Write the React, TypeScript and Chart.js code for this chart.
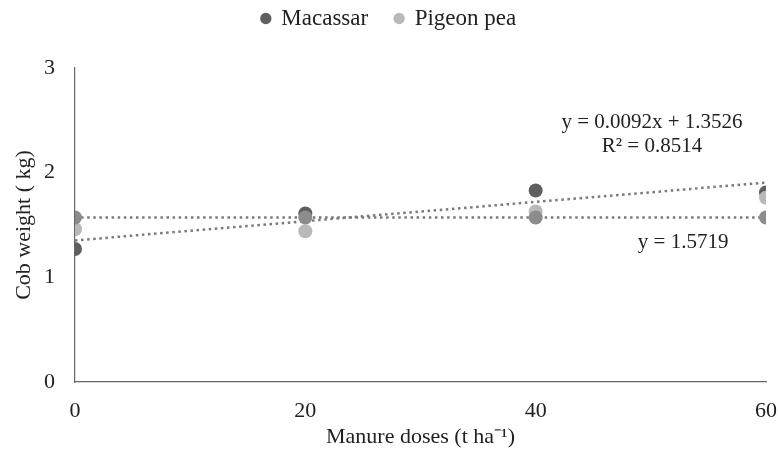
import { useEffect, useRef } from 'react';
import Chart from 'chart.js/auto';

const doses = [0, 20, 40, 60];
const macassar = [1.27, 1.61, 1.83, 1.81];
const pigeonPea = [1.46, 1.44, 1.63, 1.76];
const pigeonPeaFit = [1.5719, 1.5719, 1.5719, 1.5719];
const macassarSlope = 0.0092;
const macassarIntercept = 1.3526;
const pigeonPeaLevel = 1.5719;
const xTicks = [0, 20, 40, 60];
const yTicks = [0, 1, 2, 3];
const seriesNames = ['Macassar', 'Pigeon pea'];
const eqMacassar = 'y = 0.0092x + 1.3526';
const r2Macassar = 'R² = 0.8514';
const eqPigeon = 'y = 1.5719';

const FONT = "'Liberation Serif', 'Times New Roman', serif";
const TEXT = '#222222';
const FS = 22;

export default function App() {
  const ref = useRef<HTMLCanvasElement | null>(null);

  useEffect(() => {
    document.body.style.margin = '0';
    const canvas = ref.current;
    if (!canvas) return;

    const annot = {
      id: 'annot',
      afterDatasetsDraw(chart: any) {
        const { ctx, scales } = chart;
        const x = scales.x;
        const y = scales.y;
        ctx.save();
        ctx.font = `21px ${FONT}`;
        ctx.fillStyle = TEXT;
        ctx.textAlign = 'center';
        ctx.textBaseline = 'middle';
        ctx.fillText(eqMacassar, x.getPixelForValue(50.1), y.getPixelForValue(2.483));
        ctx.fillText(r2Macassar, x.getPixelForValue(50.1), y.getPixelForValue(2.254));
        ctx.fillText(eqPigeon, x.getPixelForValue(52.8), y.getPixelForValue(1.33));
        ctx.restore();
      },
    };

    const legendSpace = {
      id: 'legendSpace',
      beforeLayout(chart: any) {
        const lg = chart.legend;
        if (lg && !lg.__patched) {
          const orig = lg.fit.bind(lg);
          lg.fit = function () {
            orig();
            this.height = 88;
          };
          lg.__patched = true;
        }
      },
    };

    const trendLen = [doses[0], doses[doses.length - 1]];

    const chart = new Chart(canvas, {
      type: 'scatter',
      data: {
        datasets: [
          {
            label: 'fit',
            data: doses.map((d, i) => ({ x: d, y: pigeonPeaFit[i] })),
            backgroundColor: '#8c8c8c',
            borderWidth: 0,
            pointRadius: 7,
            order: 0,
          },
          {
            label: seriesNames[1],
            data: doses.map((d, i) => ({ x: d, y: pigeonPea[i] })),
            backgroundColor: '#b9b9b9',
            borderColor: '#b9b9b9',
            borderWidth: 0,
            pointRadius: 7,
            order: 1,
          },
          {
            label: seriesNames[0],
            data: doses.map((d, i) => ({ x: d, y: macassar[i] })),
            backgroundColor: '#5f5f5f',
            borderColor: '#5f5f5f',
            borderWidth: 0,
            pointRadius: 7,
            order: 2,
          },
          {
            type: 'line',
            label: 'trend1',
            data: trendLen.map((d) => ({ x: d, y: macassarSlope * d + macassarIntercept })),
            borderColor: '#7a7a7a',
            borderWidth: 2.5,
            borderDash: [2.5, 3.6],
            pointRadius: 0,
            fill: false,
            order: 3,
          } as any,
          {
            type: 'line',
            label: 'trend2',
            data: trendLen.map((d) => ({ x: d, y: pigeonPeaLevel })),
            borderColor: '#7a7a7a',
            borderWidth: 2.5,
            borderDash: [2.5, 3.6],
            pointRadius: 0,
            fill: false,
            order: 4,
          } as any,
        ],
      },
      options: {
        animation: false,
        responsive: false,
        devicePixelRatio: 1,
        layout: { padding: { top: -20, left: 0, right: 0, bottom: 0 } },
        plugins: {
          tooltip: { enabled: false },
          legend: {
            position: 'top',
            labels: {
              usePointStyle: true,
              pointStyle: 'circle',
              boxWidth: 8,
              boxHeight: 8,
              padding: 27,
              color: TEXT,
              font: { family: FONT, size: 23 },
              filter: (item: any) => seriesNames.includes(item.text),
              sort: (a: any, b: any) => seriesNames.indexOf(a.text) - seriesNames.indexOf(b.text),
            },
          },
        },
        scales: {
          x: {
            type: 'linear',
            min: 0,
            max: 60,
            afterBuildTicks: (s: any) => {
              s.ticks = xTicks.map((v) => ({ value: v }));
            },
            afterFit: (s: any) => {
              s.height = 70;
              s.paddingRight = 12;
            },
            grid: { display: false, drawTicks: false },
            border: { display: true, color: '#666666', width: 1.2 },
            ticks: {
              padding: 16,
              color: TEXT,
              font: { family: FONT, size: FS },
              maxRotation: 0,
            },
            title: {
              display: true,
              text: 'Manure doses (t ha⁻¹)',
              color: TEXT,
              font: { family: FONT, size: FS },
              padding: { top: 0, bottom: 2 },
            },
          },
          y: {
            type: 'linear',
            min: 0,
            max: 3,
            afterBuildTicks: (s: any) => {
              s.ticks = yTicks.map((v) => ({ value: v }));
            },
            afterFit: (s: any) => {
              s.width = 75;
            },
            grid: { display: false, drawTicks: false },
            border: { display: true, color: '#666666', width: 1.2 },
            ticks: {
              padding: 20,
              color: TEXT,
              font: { family: FONT, size: FS },
            },
            title: {
              display: true,
              text: 'Cob weight ( kg)',
              color: TEXT,
              font: { family: FONT, size: FS },
              padding: { top: 11, bottom: 0 },
            },
          },
        },
      },
      plugins: [annot, legendSpace],
    });

    return () => chart.destroy();
  }, []);

  return (
    <div style={{ width: 778, height: 452 }}>
      <canvas ref={ref} width={778} height={452} style={{ display: 'block' }} />
    </div>
  );
}
